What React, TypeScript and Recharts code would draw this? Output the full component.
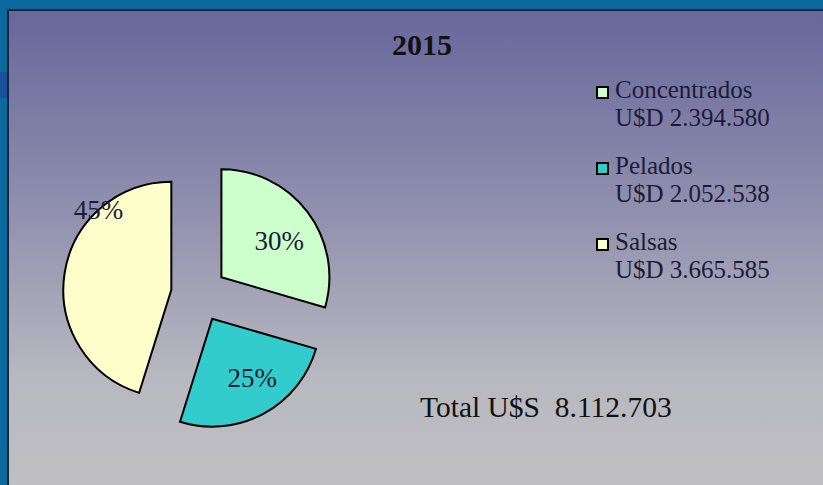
import React from "react";
import { Legend, Pie, PieChart, Sector } from "recharts";

const categories = ["Concentrados", "Pelados", "Salsas"];
const values = [2394580, 2052538, 3665585];
const title = "2015";
const currencyLabel = "U$D";
const totalLabel = "Total U$S";

const COLORS = ["#ccffcc", "#33cccc", "#ffffcc"];
const RADIAN = Math.PI / 180;
const EXPLODE = 28;
const SERIF = '"Liberation Serif", "DejaVu Serif", serif';

const data = categories.map((name, i) => ({ name, value: values[i], fill: COLORS[i] }));
const total = values.reduce((a, b) => a + b, 0);

const fmt = (n: number) => String(n).replace(/\B(?=(\d{3})+(?!\d))/g, ".");

const ExplodedSector = (props: any) => {
  const { cx, cy, midAngle } = props;
  const dx = EXPLODE * Math.cos(-midAngle * RADIAN);
  const dy = EXPLODE * Math.sin(-midAngle * RADIAN);
  return <Sector {...props} cx={cx + dx} cy={cy + dy} stroke="#000" strokeWidth={2} />;
};

// label radius / angle tweaks to follow the original placement
const labelRadius = [0.63, 0.66, 1.0];
const labelShift = [-5, 6, -39];

const renderLabel = (props: any) => {
  const { cx, cy, midAngle, outerRadius, percent, index } = props;
  const ox = cx + EXPLODE * Math.cos(-midAngle * RADIAN);
  const oy = cy + EXPLODE * Math.sin(-midAngle * RADIAN);
  const a = (midAngle + labelShift[index]) * RADIAN;
  const r = outerRadius * labelRadius[index];
  return (
    <text
      x={ox + r * Math.cos(-a)}
      y={oy + r * Math.sin(-a)}
      textAnchor="middle"
      dominantBaseline="central"
      fill="#1c1c36"
      style={{ fontFamily: SERIF, fontSize: 27 }}
    >
      {`${Math.round(percent * 100)}%`}
    </text>
  );
};

const LegendContent = (props: any) => {
  const { payload } = props;
  return (
    <div style={{ fontFamily: SERIF, fontSize: 25, color: "#1c1c36", lineHeight: "28px" }}>
      {(payload || []).map((entry: any, i: number) => {
        const idx = categories.indexOf(entry.value);
        return (
          <div key={`leg-${i}`} style={{ marginBottom: 20 }}>
            <div style={{ display: "flex", alignItems: "center" }}>
              <span
                style={{
                  display: "inline-block",
                  width: 9,
                  height: 9,
                  border: "2px solid #000",
                  background: COLORS[idx],
                  marginRight: 6,
                  marginTop: 4,
                }}
              />
              <span>{entry.value}</span>
            </div>
            <div style={{ paddingLeft: 19 }}>
              {currencyLabel} {fmt(values[idx])}
            </div>
          </div>
        );
      })}
    </div>
  );
};

export default function App() {
  return (
    <div
      style={{
        position: "absolute",
        left: 0,
        top: 0,
        width: 823,
        height: 485,
        background: "#0a6a9e",
        overflow: "hidden",
      }}
    >
      <div style={{ position: "absolute", left: 0, top: 72, width: 8, height: 26, background: "#1b4f9a" }} />
      <div
        style={{
          position: "absolute",
          left: 7,
          top: 9,
          width: 830,
          height: 490,
          borderLeft: "2px solid #1a2438",
          borderTop: "2px solid #1a2438",
          background: "linear-gradient(180deg, #67679b 0%, #8f8fae 40%, #b8b8c0 75%, #c0c0c4 100%)",
        }}
      />
      <div
        style={{
          position: "absolute",
          left: 322,
          width: 200,
          top: 28,
          textAlign: "center",
          fontFamily: SERIF,
          fontWeight: "bold",
          fontSize: 30,
          color: "#111",
        }}
      >
        {title}
      </div>
      <div
        style={{
          position: "absolute",
          left: 420,
          top: 391,
          fontFamily: SERIF,
          fontSize: 29.5,
          color: "#111",
          whiteSpace: "pre",
        }}
      >
        {`${totalLabel}  ${fmt(total)}`}
      </div>
      <div style={{ position: "absolute", left: 0, top: 0 }}>
        <PieChart width={823} height={485} margin={{ top: 0, right: 0, bottom: 0, left: 0 }}>
          <Pie
            data={data}
            dataKey="value"
            nameKey="name"
            cx={199}
            cy={294}
            outerRadius={108}
            startAngle={90}
            endAngle={-270}
            stroke="#000"
            strokeWidth={2}
            label={renderLabel}
            labelLine={false}
            shape={ExplodedSector}
            activeShape={ExplodedSector}
            inactiveShape={ExplodedSector}
            isAnimationActive={false}
          />
          <Legend
            layout="vertical"
            align="right"
            verticalAlign="top"
            content={<LegendContent />}
            wrapperStyle={{ top: 76, left: 596, right: "auto", width: 225 }}
          />
        </PieChart>
      </div>
    </div>
  );
}
